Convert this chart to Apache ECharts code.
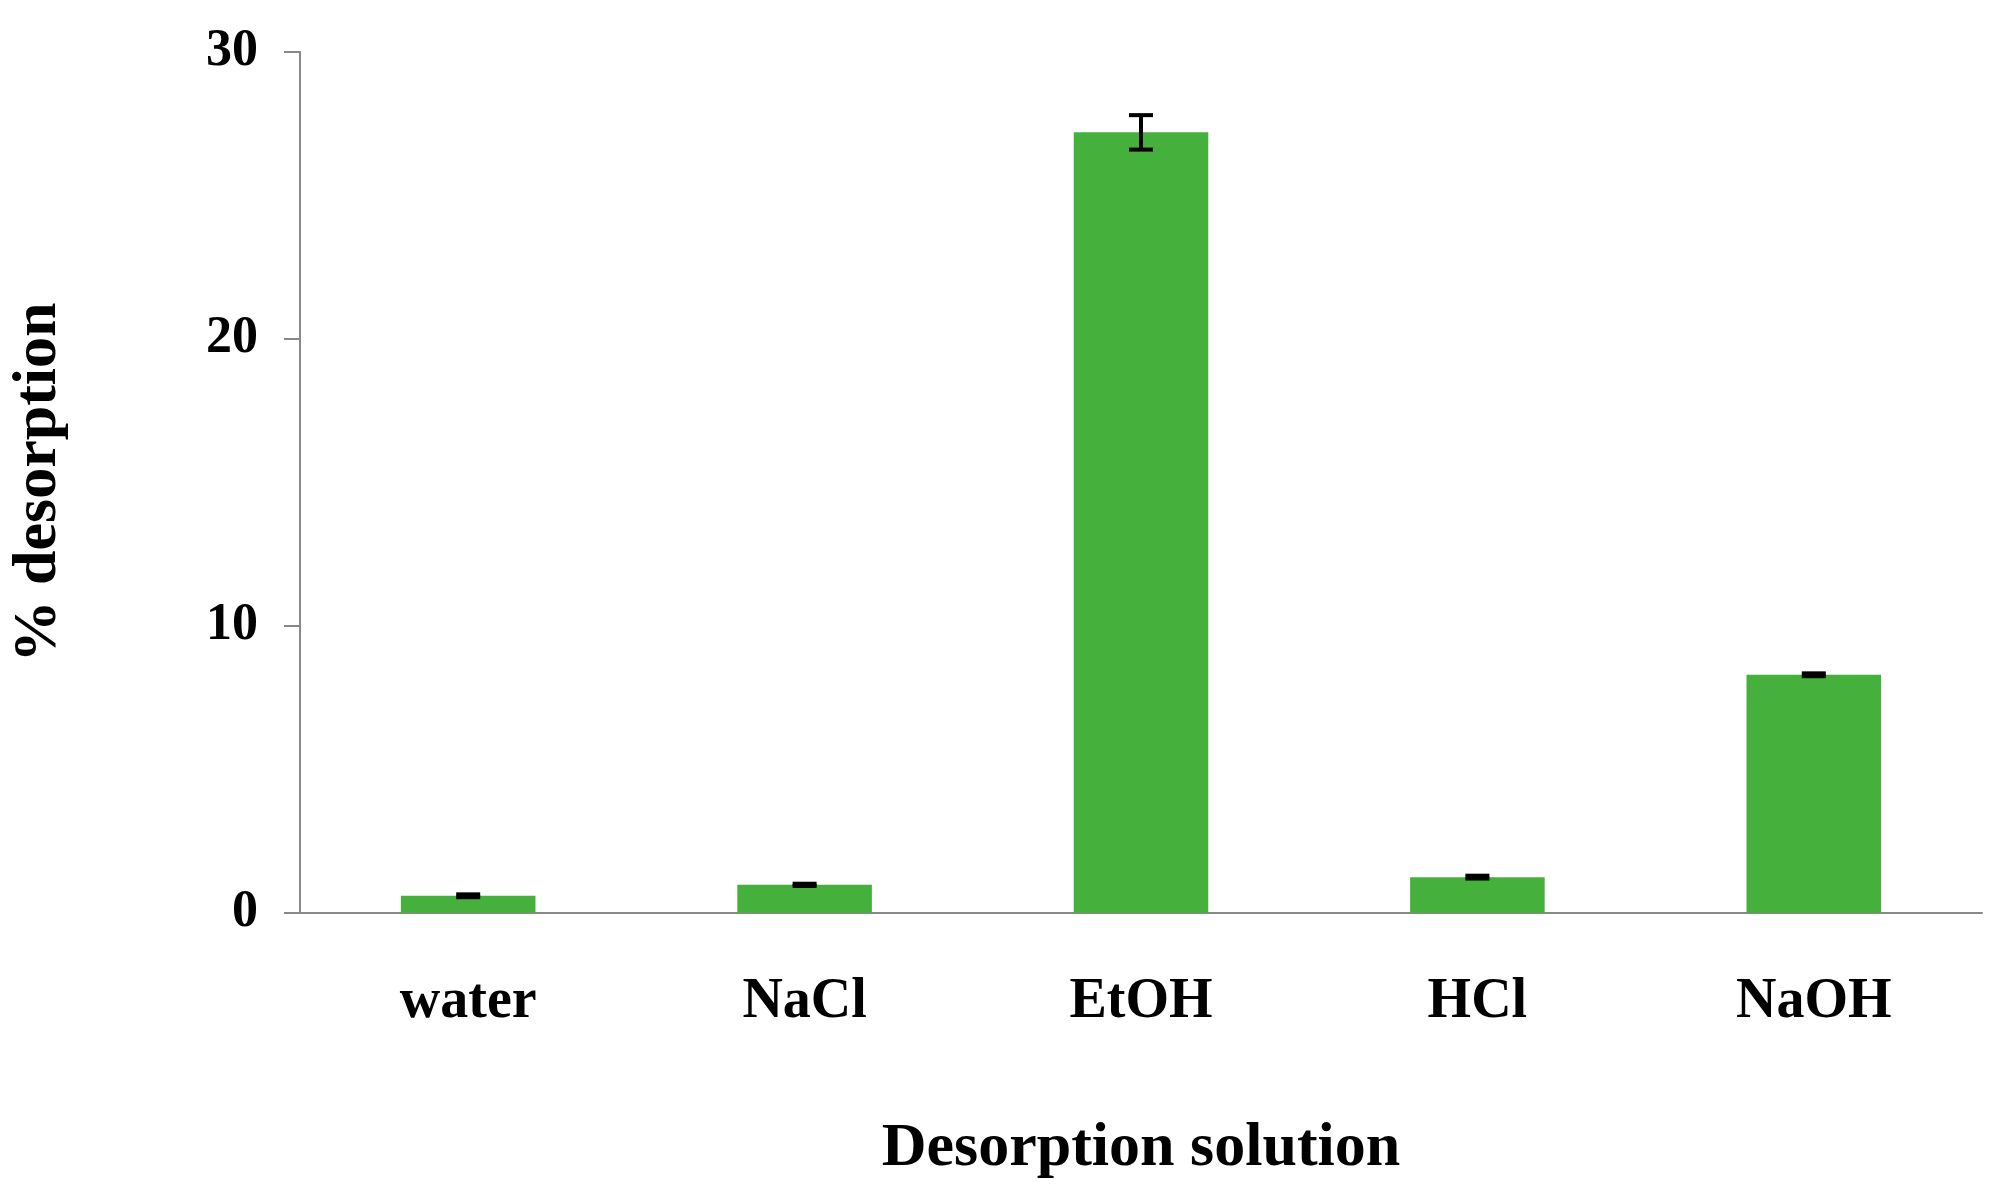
<!DOCTYPE html>
<html lang="en">
<head>
<meta charset="UTF-8">
<title>Desorption</title>
<script src="https://cdn.jsdelivr.net/npm/echarts@6/dist/echarts.min.js"></script>
<style>
  *{margin:0;}
  html,body{height:100%;background:#fff;}
  #chart{width:1995px;height:1192px;}
</style>
</head>
<body>
<div id="chart"></div>
<script>
  // data
  const categories = ['water', 'NaCl', 'EtOH', 'HCl', 'NaOH'];
  const values = [0.6, 0.98, 27.2, 1.25, 8.3];
  const errors = [0.05, 0.04, 0.6, 0.05, 0.05];

  const font = '"Liberation Serif", "Times New Roman", serif';
  let chart = echarts.init(document.getElementById('chart'));
  chart.setOption({
      animation: false,
      grid: {left: 294, right: 13, top: 52, bottom: 279},
      xAxis: {
          type: 'category',
          data: categories,
          name: 'Desorption solution',
          nameLocation: 'middle',
          nameGap: 205,
          nameTextStyle: {fontFamily: font, fontWeight: 'bold', fontSize: 62, color: '#000'},
          axisLine: {lineStyle: {color: '#888', width: 2}},
          axisTick: {inside: true, length: 22, lineStyle: {color: '#888', width: 2}},
          axisLabel: {margin: 62, fontFamily: font, fontWeight: 'bold', fontSize: 56, color: '#000'}
      },
      yAxis: {
          type: 'value',
          min: 0, max: 30, interval: 10,
          name: '% desorption',
          nameLocation: 'middle',
          nameGap: 230,
          nameTextStyle: {fontFamily: font, fontWeight: 'bold', fontSize: 62, color: '#000'},
          splitLine: {show: false},
          axisLine: {show: true, lineStyle: {color: '#888', width: 2}},
          axisTick: {show: true, length: 16, lineStyle: {color: '#888', width: 2}},
          axisLabel: {margin: 42, fontFamily: font, fontWeight: 'bold', fontSize: 52, color: '#000'}
      },
      series: [
          {
              type: 'bar',
              data: values,
              barWidth: '40%',
              itemStyle: {color: '#45b03c'}
          },
          {
              type: 'custom',
              data: values.map((v, i) => [i, v - errors[i], v + errors[i]]),
              renderItem: function (params, api) {
                  const lo = api.coord([api.value(0), api.value(1)]);
                  const hi = api.coord([api.value(0), api.value(2)]);
                  const hw = 12;
                  const st = {stroke: '#000', lineWidth: 4};
                  return {
                      type: 'group',
                      children: [
                          {type: 'line', shape: {x1: lo[0], y1: lo[1], x2: hi[0], y2: hi[1]}, style: st},
                          {type: 'line', shape: {x1: lo[0] - hw, y1: lo[1], x2: lo[0] + hw, y2: lo[1]}, style: st},
                          {type: 'line', shape: {x1: hi[0] - hw, y1: hi[1], x2: hi[0] + hw, y2: hi[1]}, style: st}
                      ]
                  };
              },
              z: 10
          }
      ]
  });
</script>
</body>
</html>
